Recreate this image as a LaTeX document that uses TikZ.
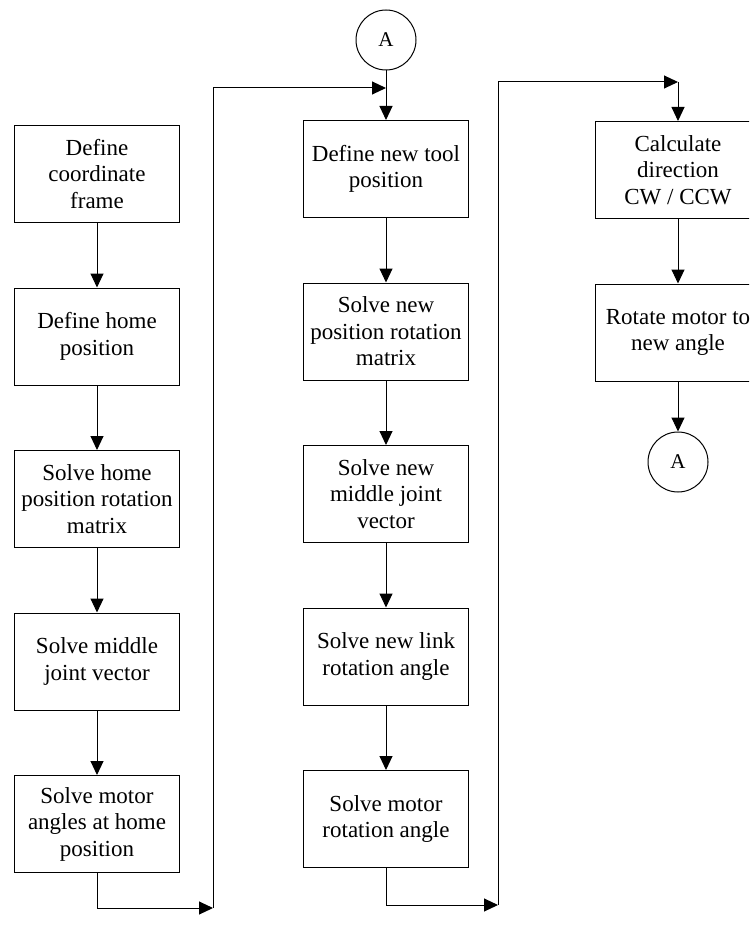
\documentclass[tikz,border=0pt]{standalone}
\usepackage{fontspec}
\setmainfont{Liberation Serif}
\usetikzlibrary{arrows.meta, positioning}

\begin{document}
\begin{tikzpicture}[x=1pt, y=-1pt, line width=1pt,
  box/.style={draw, minimum width=165pt, minimum height=97pt, inner sep=2pt,
    align=center, font=\fontsize{23}{26.5}\selectfont},
  conn/.style={draw, circle, minimum size=60pt, inner sep=0pt,
    font=\fontsize{21}{24}\selectfont},
  flow/.style={-{Triangle[length=14pt, width=13pt]}},
  node distance=64.5pt]
  \useasboundingbox (0,0) rectangle (749,941);
  \clip (0,0) rectangle (749,941);

  % home position column
  \node[box] (frame) at (97,174) {Define\\coordinate\\frame};
  \node[box, below=of frame] (home) {Define home\\position};
  \node[box, below=of home] (homerot) {Solve home\\position rotation\\matrix};
  \node[box, below=of homerot] (midvec) {Solve middle\\joint vector};
  \node[box, below=of midvec] (homeang) {Solve motor\\angles at home\\position};

  % new position column
  \node[conn] (topA) at (386,40) {A};
  \node[box] (newtool) at (386,169) {Define new tool\\position};
  \node[box, below=of newtool] (newrot) {Solve new\\position rotation\\matrix};
  \node[box, below=of newrot] (newvec) {Solve new\\middle joint\\vector};
  \node[box, below=of newvec] (linkang) {Solve new link\\rotation angle};
  \node[box, below=of linkang] (motang) {Solve motor\\rotation angle};

  % motor column
  \node[box] (dir) at (678,170) {Calculate\\direction\\CW / CCW};
  \node[box, below=of dir] (turn) {Rotate motor to\\new angle};
  \node[conn, below=50pt of turn] (botA) {A};

  \coordinate (lturn) at (213,908);
  \coordinate (mjoin) at (386,88);
  \coordinate (mturn) at (498,905);
  \coordinate (rjoin) at (678,82);

  \draw[flow] (frame) -- (home);
  \draw[flow] (home) -- (homerot);
  \draw[flow] (homerot) -- (midvec);
  \draw[flow] (midvec) -- (homeang);
  \draw[flow] (homeang.south) |- (lturn);
  \draw[flow] (lturn) |- (mjoin);

  \draw (topA) -- (mjoin);
  \draw[flow] (mjoin) -- (newtool);
  \draw[flow] (newtool) -- (newrot);
  \draw[flow] (newrot) -- (newvec);
  \draw[flow] (newvec) -- (linkang);
  \draw[flow] (linkang) -- (motang);
  \draw[flow] (motang.south) |- (mturn);
  \draw[flow] (mturn) |- (rjoin);

  \draw[flow] (rjoin) -- (dir);
  \draw[flow] (dir) -- (turn);
  \draw[flow] (turn) -- (botA);
\end{tikzpicture}
\end{document}
